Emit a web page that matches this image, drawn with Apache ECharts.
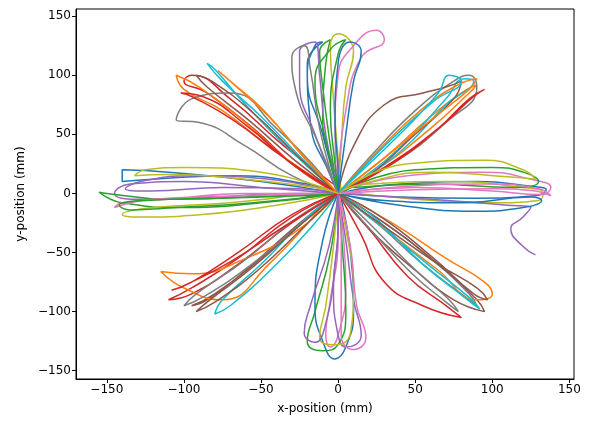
<!DOCTYPE html>
<html><head><meta charset="utf-8">
<script src="https://cdn.jsdelivr.net/npm/echarts@6/dist/echarts.min.js"></script>
<style>html,body{margin:0;padding:0;background:#fff}#c{width:591px;height:432px}</style>
</head><body><div id="c"></div>
<script>
const xTicks=[-150,-100,-50,0,50,100,150];
const yTicks=[-150,-100,-50,0,50,100,150];
const palette=['#1f77b4','#ff7f0e','#2ca02c','#d62728','#9467bd','#8c564b','#e377c2','#7f7f7f','#bcbd22','#17becf'];
const east=[
[[0,0],[40,8],[90,10],[125,6],[135,3],[128,-2],[90,-4],[40,-3],[5,0]],
[[0,2],[50,-5],[100,-8],[130,-6],[133,0],[120,5],[70,10],[20,8],[0,3]],
[[-2,0],[45,15],[95,18],[125,12],[138,5],[132,-1],[100,2],[50,5],[10,2]],
[[0,0],[60,-5],[110,-10],[125,-12],[120,-20],[112,-30],[120,-45],[128,-52]],
[[0,0],[50,20],[100,22],[120,18],[130,10],[115,5],[60,8],[10,5]],
[[0,0],[40,-10],[90,-15],[120,-12],[132,-6],[125,-3],[80,-8],[30,-6],[0,0]],
[[0,0],[45,25],[95,28],[120,20],[128,12],[110,14],[60,18],[15,8],[0,0]],
[[0,0],[50,3],[100,4],[128,2],[138,-2],[130,4],[95,8],[45,6],[0,0]]];
const northEast=[
[[0,0],[30,30],[60,65],[80,85],[90,92],[85,85],[60,55],[25,20],[0,2]],
[[2,0],[40,35],[70,75],[88,95],[82,97],[70,80],[45,45],[15,12],[0,0]],
[[0,0],[20,30],[50,70],[75,95],[85,100],[90,90],[70,60],[35,25],[5,5]],
[[0,0],[10,40],[30,75],[55,85],[70,90],[80,95],[75,80],[50,50],[20,15],[0,0]],
[[0,0],[35,25],[65,55],[85,80],[95,88],[88,82],[65,55],[30,22],[0,0]],
[[0,0],[25,35],[55,72],[78,92],[90,97],[85,88],[60,62],[28,28],[0,0]],
[[0,0],[30,40],[62,78],[80,95],[72,100],[65,85],[40,50],[12,15],[0,0]]];
const north=[
[[0,0],[-5,40],[-10,90],[-12,120],[-5,130],[-8,110],[-10,60],[-3,20],[0,0]],
[[0,0],[-10,50],[-20,100],[-15,125],[-10,128],[-20,110],[-18,60],[-5,15],[0,0]],
[[0,0],[2,40],[5,90],[10,120],[0,135],[-5,125],[-3,80],[0,30],[2,0]],
[[0,0],[-2,50],[0,100],[10,125],[25,138],[30,130],[15,115],[5,70],[0,10]],
[[0,0],[-15,50],[-25,95],[-25,120],[-15,128],[-12,100],[-8,50],[0,5]],
[[0,0],[-8,45],[-15,95],[-5,122],[5,130],[0,118],[-5,70],[-2,25],[0,0]],
[[0,0],[5,50],[10,95],[15,120],[8,128],[0,110],[-2,60],[0,15],[0,0]],
[[0,0],[-12,40],[-28,90],[-30,115],[-22,125],[-18,105],[-12,55],[-3,10],[0,0]]];
const northWest=[
[[0,0],[-25,20],[-55,55],[-85,85],[-100,95],[-95,100],[-70,80],[-35,40],[0,5]],
[[0,0],[-30,25],[-60,60],[-90,90],[-105,100],[-100,88],[-75,70],[-40,35],[-5,5]],
[[0,0],[-20,25],[-50,65],[-75,95],[-85,110],[-80,105],[-60,75],[-30,35],[0,0]],
[[0,0],[-30,15],[-60,40],[-90,60],[-105,62],[-95,80],[-70,85],[-40,55],[-10,15]],
[[0,0],[-28,28],[-58,62],[-85,90],[-92,100],[-82,95],[-55,68],[-25,30],[0,0]],
[[0,0],[-35,30],[-68,62],[-95,82],[-102,85],[-88,82],[-60,58],[-30,25],[0,0]],
[[0,0],[-22,30],[-48,70],[-70,95],[-78,104],[-70,95],[-45,65],[-20,28],[0,0]]];
const west=[
[[0,0],[-50,5],[-100,10],[-135,8],[-145,0],[-130,-5],[-80,-3],[-30,0],[0,0]],
[[0,0],[-60,-3],[-110,-5],[-150,0],[-155,1],[-140,-8],[-100,-12],[-50,-8],[0,0]],
[[0,0],[-50,10],[-110,18],[-140,20],[-140,10],[-120,12],[-70,15],[-20,8],[0,0]],
[[0,0],[-40,-10],[-90,-18],[-130,-20],[-140,-18],[-120,-12],[-70,-8],[-20,0]],
[[0,0],[-60,-2],[-120,-5],[-145,-12],[-140,-8],[-110,-5],[-60,0],[0,0]],
[[0,0],[-45,12],[-95,15],[-128,10],[-138,4],[-122,2],[-75,5],[-25,4],[0,0]],
[[0,0],[-55,-8],[-105,-12],[-135,-14],[-142,-10],[-125,-6],[-75,-4],[-25,-2],[0,0]],
[[0,0],[-50,18],[-100,22],[-125,20],[-132,15],[-110,16],[-60,12],[-15,5],[0,0]]];
const southWest=[
[[0,0],[-20,-20],[-50,-55],[-80,-85],[-95,-95],[-85,-90],[-60,-65],[-25,-25],[0,0]],
[[0,0],[-30,-25],[-65,-60],[-95,-85],[-110,-90],[-95,-80],[-65,-55],[-30,-20],[0,0]],
[[0,0],[-25,-30],[-60,-55],[-95,-68],[-115,-66],[-100,-80],[-75,-90],[-45,-60],[-10,-10]],
[[0,0],[-15,-25],[-40,-60],[-70,-95],[-80,-102],[-75,-90],[-50,-60],[-20,-20],[0,0]],
[[0,0],[-28,-30],[-58,-62],[-88,-88],[-100,-95],[-92,-85],[-62,-58],[-28,-22],[0,0]],
[[0,0],[-22,-28],[-52,-65],[-80,-92],[-92,-100],[-85,-92],[-55,-62],[-22,-24],[0,0]],
[[0,0],[-35,-28],[-70,-58],[-100,-78],[-108,-82],[-95,-75],[-65,-50],[-30,-18],[0,0]]];
const south=[
[[0,0],[0,-40],[-5,-90],[-8,-120],[-5,-130],[0,-120],[5,-80],[3,-30],[0,0]],
[[0,0],[5,-40],[10,-90],[15,-120],[5,-130],[0,-120],[-3,-80],[0,-30],[0,0]],
[[0,0],[-5,-50],[-15,-100],[-20,-125],[-10,-133],[0,-128],[5,-100],[3,-50],[0,0]],
[[0,0],[-10,-40],[-15,-95],[-10,-125],[-2,-140],[5,-130],[10,-100],[8,-50],[2,-5]],
[[0,0],[-3,-45],[-8,-95],[-12,-122],[-2,-128],[8,-118],[10,-80],[5,-30],[0,0]],
[[0,0],[8,-45],[12,-95],[18,-122],[10,-132],[2,-120],[2,-75],[2,-25],[0,0]],
[[0,0],[-6,-45],[-18,-95],[-22,-118],[-15,-126],[-8,-110],[-2,-60],[0,-15],[0,0]]];
const southEast=[
[[0,0],[25,-25],[55,-60],[80,-85],[90,-95],[85,-85],[60,-55],[30,-25],[0,0]],
[[0,0],[20,-30],[50,-65],[75,-90],[95,-100],[90,-90],[65,-60],[30,-25],[0,0]],
[[0,0],[15,-35],[30,-75],[55,-95],[80,-105],[70,-95],[45,-70],[20,-30],[0,0]],
[[0,0],[35,-25],[70,-55],[95,-75],[100,-85],[90,-90],[65,-65],[30,-30],[0,0]],
[[0,0],[28,-28],[60,-62],[85,-88],[92,-98],[84,-90],[55,-60],[25,-22],[0,0]],
[[0,0],[22,-32],[48,-68],[70,-92],[78,-100],[72,-90],[48,-62],[20,-25],[0,0]],
[[0,0],[32,-30],[65,-60],[90,-80],[97,-90],[88,-85],[62,-55],[28,-20],[0,0]]];
const all=[];
const groups=[east,northEast,north,northWest,west,southWest,south,southEast];
const maxLen=Math.max(...groups.map(g=>g.length));
for(let i=0;i<maxLen;i++)groups.forEach(g=>{if(g[i])all.push(g[i]);});
const series=all.map((d,i)=>({type:'line',data:d,smooth:0.5,showSymbol:false,
 lineStyle:{width:1.5,color:palette[i%10]},silent:true,animation:false}));
const lbl=v=>String(v).replace('-','\u2212');
const chart=echarts.init(document.getElementById('c'),null,{renderer:'canvas'});
chart.setOption({animation:false,
 grid:{left:76,right:17,top:9,bottom:53,show:true,borderColor:'#000',borderWidth:1},
 xAxis:{type:'value',min:-170,max:153,name:'x-position (mm)',nameLocation:'middle',nameGap:24,
  nameTextStyle:{fontFamily:'DejaVu Sans',fontSize:12,color:'#000'},
  axisLine:{show:true,onZero:false,lineStyle:{color:'#000'}},splitLine:{show:false},
  axisTick:{show:true,length:4,customValues:xTicks,lineStyle:{color:'#000'}},
  axisLabel:{customValues:xTicks,fontFamily:'DejaVu Sans',fontSize:12,color:'#000',margin:5,formatter:lbl}},
 yAxis:{type:'value',min:-157,max:156,name:'y-position (mm)',nameLocation:'middle',nameGap:46,
  nameTextStyle:{fontFamily:'DejaVu Sans',fontSize:12,color:'#000'},
  axisLine:{show:true,onZero:false,lineStyle:{color:'#000'}},splitLine:{show:false},
  axisTick:{show:true,length:4,customValues:yTicks,lineStyle:{color:'#000'}},
  axisLabel:{customValues:yTicks,fontFamily:'DejaVu Sans',fontSize:12,color:'#000',margin:5,formatter:lbl}},
 series});
</script></body></html>
